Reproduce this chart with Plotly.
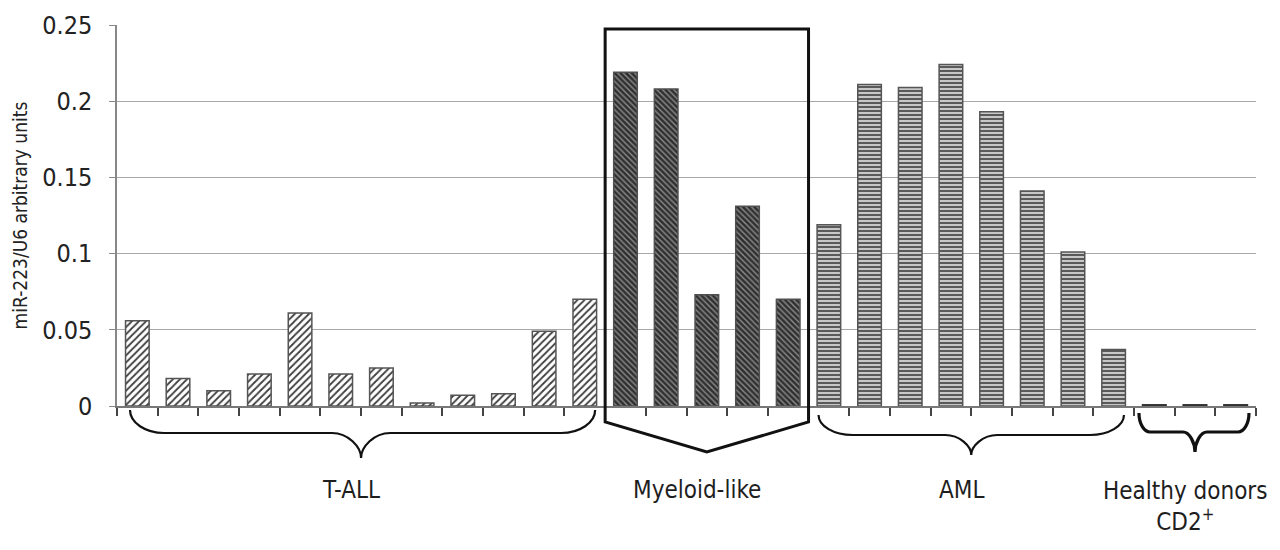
import plotly.graph_objects as go

# ---- data ----
group_names = ["T-ALL", "Myeloid-like", "AML", "Healthy donors<br>CD2<sup>+</sup>"]
tall_values = [0.056, 0.018, 0.010, 0.021, 0.061, 0.021, 0.025, 0.002, 0.007, 0.008, 0.049, 0.070]
myeloid_values = [0.219, 0.208, 0.073, 0.131, 0.070]
aml_values = [0.119, 0.211, 0.209, 0.224, 0.193, 0.141, 0.101, 0.037]
healthy_values = [0.0008, 0.0008, 0.0008]
y_ticks = [0, 0.05, 0.1, 0.15, 0.2, 0.25]
y_tick_labels = ["0", "0.05", "0.1", "0.15", "0.2", "0.25"]
y_title = "miR-223/U6 arbitrary units"

groups = [
    ("tall", tall_values),
    ("mye", myeloid_values),
    ("aml", aml_values),
    ("hd", healthy_values),
]
cats_per_group = []
all_cats = []
for key, vals in groups:
    c = [f"{key}{i+1}" for i in range(len(vals))]
    cats_per_group.append(c)
    all_cats += c
N = len(all_cats)

FONT = "Liberation Sans Narrow, Arial Narrow, DejaVu Sans Condensed, sans-serif"

styles = [
    dict(shape="/", fgcolor="#3c3c3c", bgcolor="#ffffff", size=5, solidity=0.35, line="#555555"),
    dict(shape="\\", fgcolor="#8c8c8c", bgcolor="#303030", size=4, solidity=0.35, line="#505050"),
    dict(shape="-", fgcolor="#5a5a5a", bgcolor="#c8c8c8", size=4, solidity=0.5, line="#555555"),
    dict(shape="", fgcolor="#333333", bgcolor="#333333", size=4, solidity=0.5, line="#333333"),
]

fig = go.Figure()
for (key, vals), cats, st in zip(groups, cats_per_group, styles):
    fig.add_trace(go.Bar(
        x=cats, y=vals,
        marker=dict(
            color=st["bgcolor"],
            line=dict(color=st["line"], width=1.5),
            pattern=dict(shape=st["shape"], fgcolor=st["fgcolor"], bgcolor=st["bgcolor"],
                         size=st["size"], solidity=st["solidity"], fillmode="replace"),
        ),
        showlegend=False,
        hoverinfo="x+y",
    ))

# figure / plot-area geometry (pixels); page body adds an 8px offset
FW, FH = 1272, 542
L, R, T, B = 109, 24, 17, 144
W = FW - L - R
H = FH - T - B


def py(dpx):
    """paper y for a pixel offset below the x axis (positive = down)"""
    return -dpx / H


def pxw(dpx):
    return dpx / W


K = 0.55
# per group: (inset_left, inset_right, top, horiz, tip, corner, tipw, linewidth)
brace_geom = {
    0: (13, 10, 4, 27, 52, 34, 29, 2.2),
    2: (10, 10, 9, 29, 49, 34, 26, 2.2),
    3: (5, 7, 7, 26, 46, 11, 12, 3.2),
}

shapes = []
annotations = []
start = 0
for gi, cats in enumerate(cats_per_group):
    n = len(cats)
    x0 = start / N
    x1 = (start + n) / N
    xc = (x0 + x1) / 2
    if gi == 1:
        ytop = 1 - 4 / H
        yside = py(16)
        ytip = py(46)
        path = (f"M {x0},{ytop} L {x1},{ytop} L {x1},{yside} "
                f"L {xc},{ytip} L {x0},{yside} Z")
        shapes.append(dict(type="path", xref="paper", yref="paper", path=path,
                           line=dict(color="#111111", width=3), layer="above"))
    else:
        il, ir, t, m, tp, cr, tw, lw = brace_geom[gi]
        a = x0 + pxw(il)
        b = x1 - pxw(ir)
        yt, ym, yp = py(t), py(m), py(tp)
        r = pxw(cr)
        w = pxw(tw)
        path = (
            f"M {a},{yt} "
            f"C {a},{yt + K * (ym - yt)} {a + r - K * r},{ym} {a + r},{ym} "
            f"L {xc - w},{ym} "
            f"C {xc - w + K * w},{ym} {xc},{ym + K * (yp - ym)} {xc},{yp} "
            f"C {xc},{ym + K * (yp - ym)} {xc + w - K * w},{ym} {xc + w},{ym} "
            f"L {b - r},{ym} "
            f"C {b - r + K * r},{ym} {b},{yt + K * (ym - yt)} {b},{yt}"
        )
        shapes.append(dict(type="path", xref="paper", yref="paper", path=path,
                           line=dict(color="#111111", width=lw)))
    label_y = py(84) if gi != 3 else py(100)
    annotations.append(dict(xref="paper", yref="paper", x=xc, xshift=-10,
                            y=label_y, text=group_names[gi], showarrow=False,
                            font=dict(family=FONT, size=24, color="#1e1e1e"),
                            xanchor="center", yanchor="middle"))
    start += n

fig.update_layout(
    width=FW, height=FH,
    margin=dict(l=L, r=R, t=T, b=B, autoexpand=False),
    paper_bgcolor="white", plot_bgcolor="white",
    barmode="overlay", bargap=0.42,
    shapes=shapes, annotations=annotations,
    font=dict(family=FONT, color="#222222"),
    xaxis=dict(
        type="category", categoryorder="array", categoryarray=all_cats,
        range=[-0.5, N - 0.5], showticklabels=False,
        showline=True, linecolor="#777777", linewidth=1.5,
        ticks="outside", tickson="boundaries", ticklen=8, tickcolor="#444444", tickwidth=1.5,
        showgrid=False, zeroline=False, fixedrange=True,
    ),
    yaxis=dict(
        range=[0, 0.25], tickvals=y_ticks, ticktext=y_tick_labels,
        showline=True, linecolor="#888888", linewidth=1.5,
        ticks="outside", ticklen=6, tickcolor="#888888",
        ticklabelstandoff=12,
        showgrid=True, gridcolor="#a8a8a8", gridwidth=1,
        zeroline=False,
        tickfont=dict(family=FONT, size=25, color="#222222"),
        title=dict(text=y_title, font=dict(family=FONT, size=19, color="#222222"), standoff=10),
        fixedrange=True,
    ),
)

fig.write_html("out.html")
